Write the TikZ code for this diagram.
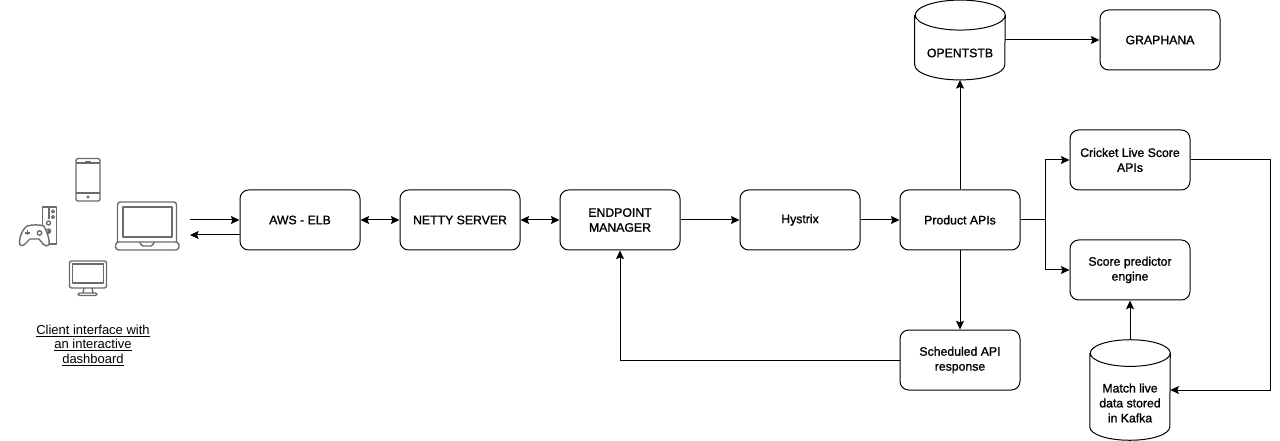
\documentclass[tikz,border=0pt]{standalone}
\usepackage{fontspec}
\setmainfont{Liberation Sans}
\newfontfamily\labelfont[FakeBold=1.2]{Liberation Sans}
\usetikzlibrary{arrows.meta}

\tikzset{
    px/.style={x=0.75pt,y=-0.75pt},
    label text/.style={font=\fontsize{9.2}{11.2}\selectfont\labelfont, align=center},
    box style/.style={
        label text,
        draw=black,
        rounded corners=6.5pt,
        line width=0.75pt,
        minimum width=90pt,
        minimum height=45pt,
        inner sep=1pt
    },
    db style/.style={inner sep=0pt},
    db line/.style={draw=black, line width=0.75pt},
    flow/.style={-{Stealth[length=6.5pt,width=6pt,inset=1.2pt]}, line width=0.75pt},
    both flow/.style={{Stealth[length=6.5pt,width=6pt,inset=1.2pt]}-{Stealth[length=6.5pt,width=6pt,inset=1.2pt]}, line width=0.75pt},
    icon line/.style={draw=black!58, line width=1.05pt, line join=round},
    client text/.style={font=\fontsize{9.75}{11}\selectfont, inner sep=0pt}
}

% outline of a cylinder round a node: name, half width, ellipse height (in pt)
\newcommand{\dbcylinder}[3]{%
    \draw[db line] ([yshift=-#3]#1.north west) -- ([yshift=#3]#1.south west)
        arc[start angle=180, end angle=360, x radius=#2, y radius=#3]
        -- ([yshift=-#3]#1.north east)
        arc[start angle=0, end angle=180, x radius=#2, y radius=#3]
        arc[start angle=180, end angle=360, x radius=#2, y radius=#3];
}

\begin{document}
\begin{tikzpicture}[px]
    \useasboundingbox (0,0) rectangle (1280,441);

    % --- Boxes ---
    \node[box style] (aws) at (300,220) {AWS - ELB};
    \node[box style] (netty) at (460,220) {NETTY SERVER};
    \node[box style] (endpoint) at (620,220) {ENDPOINT\\MANAGER};
    \node[box style] (hystrix) at (800,220) {Hystrix};
    \node[box style] (product) at (960,220) {Product APIs};
    \node[box style] (cricket) at (1130,160) {Cricket Live Score\\APIs};
    \node[box style] (score) at (1130,270) {Score predictor\\engine};
    \node[box style] (sched) at (960,360) {Scheduled API\\response};
    \node[box style] (graphana) at (1160,40) {GRAPHANA};

    % --- Cylinders ---
    \node[db style, minimum width=67.5pt, minimum height=59.5pt] (opentstb) at (960,40) {};
    \dbcylinder{opentstb}{33.75pt}{11.25pt}
    \node[label text] (opentstbtext) at (960,53) {OPENTSTB};
    \node[db style, minimum width=60pt, minimum height=75pt] (kafka) at (1130,390) {};
    \dbcylinder{kafka}{30pt}{10pt}
    \node[label text, inner sep=0pt] (kafkatext) at (1130,403) {Match live\\data stored\\in Kafka};

    % --- Client end of the two arrows ---
    \coordinate (lapin) at (190,220);
    \coordinate (lapout) at (190,235);
    \coordinate (awsout) at (240,235);

    % --- Connectors ---
    \draw[flow] (lapin) -- (aws.west);
    \draw[flow] (awsout) -- (lapout);
    \draw[both flow] (aws) -- (netty);
    \draw[both flow] (netty) -- (endpoint);
    \draw[flow] (endpoint) -- (hystrix);
    \draw[flow] (hystrix) -- (product);
    \draw[flow] (product) -- (opentstb.south);
    \draw[flow] (opentstb.east) -- (graphana.west);
    \draw[flow] (product) -- (sched);
    \draw[flow] (sched.west) -| (endpoint.south);
    \draw[flow] (product.east) -- ++(25,0) |- (cricket.west);
    \draw[flow] (product.east) -- ++(25,0) |- (score.west);
    \draw[flow] (cricket.east) -- ++(80,0) |- (kafka.east);
    \draw[flow] (kafka.north) -- (score.south);

    % --- Phone ---
    \draw[icon line, rounded corners=1.5pt] (76,158.5) rectangle (100,201);
    \draw[icon line] (76,163) -- (100,163) (76,193) -- (100,193);
    \fill[black!58] (88,197) circle (1.6);
    \draw[black!58, line width=0.6pt] (85,161) -- (91,161);

    % --- Laptop ---
    \draw[icon line, rounded corners=2pt] (117.5,242) -- (117.5,202) -- (176.5,202) -- (176.5,242);
    \draw[icon line] (123,207) rectangle (172,237);
    \draw[icon line, rounded corners=2.5pt] (115.5,242) rectangle (179,250);
    \draw[icon line, rounded corners=1.5pt] (140,242) -- (141,246) -- (153,246) -- (154,242);

    % --- Monitor ---
    \draw[icon line, rounded corners=1.5pt] (69.5,261) rectangle (106.5,288);
    \draw[icon line] (72.5,264) rectangle (103.5,283);
    \draw[icon line] (84,288) -- (83,293) (92,288) -- (93,293);
    \draw[icon line, rounded corners=1pt] (78,293) rectangle (97,295.5);

    % --- Game console ---
    \draw[icon line] (42.5,207) -- (56.5,207) -- (56.5,244) -- (42.5,244) -- cycle;
    \draw[icon line] (49,207) -- (49,219) (49,230) -- (49,234) (49,241) -- (49,244);
    \draw[icon line] (53,211.5) circle (1.5) (53,217) circle (1.5);
    \draw[icon line] (48.5,223) circle (2) (48.5,231) circle (2);
    \draw[icon line, fill=white] (27,226) .. controls (32,224.5) and (40,224.5) .. (44,226)
        .. controls (47,232) and (50,240) .. (49,244) .. controls (48,247) and (45,246) .. (43,244)
        -- (39,239) -- (30,239) -- (25,244) .. controls (22,247) and (19,246) .. (19.5,241)
        .. controls (20,235) and (23,229) .. (27,226) -- cycle;
    \draw[black!58, line width=0.8pt] (25,233) -- (30,233) (27.5,230.5) -- (27.5,235.5);
    \draw[icon line] (39.5,233) circle (2.2);

    % --- Client label ---
    \node[client text] (clientone) at (93,331) {\underline{Client interface with}};
    \node[client text] (clienttwo) at (93,345) {\underline{an interactive}};
    \node[client text] (clientthree) at (93,360) {\underline{dashboard}};
\end{tikzpicture}
\end{document}
